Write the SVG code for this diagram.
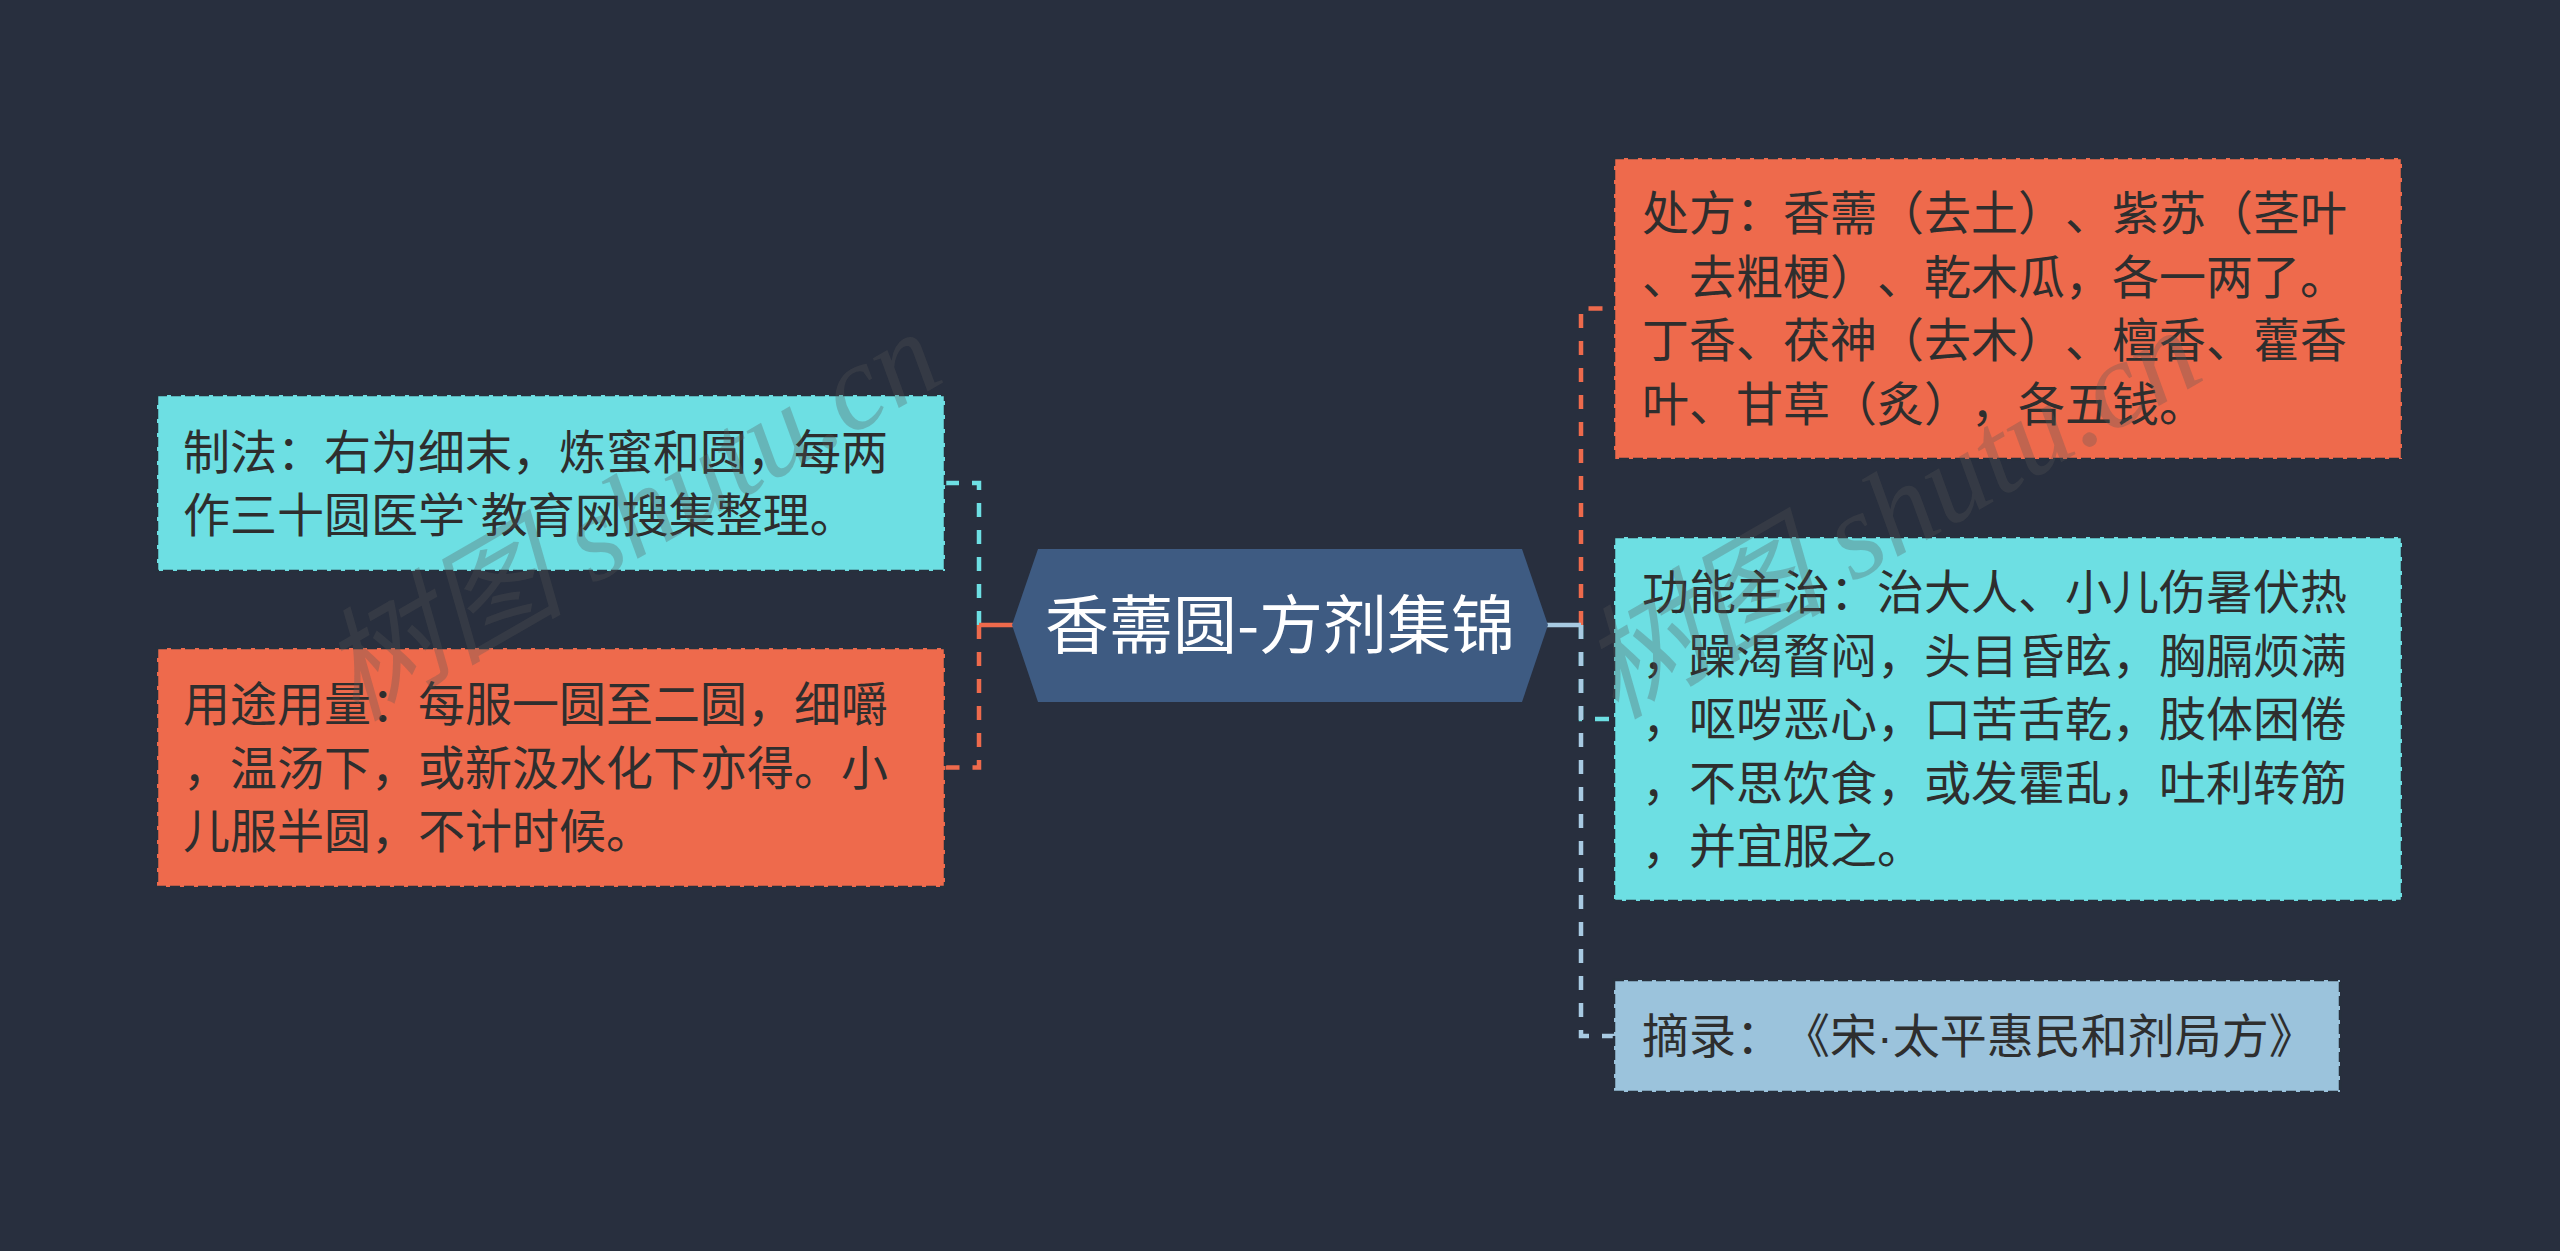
<svg xmlns="http://www.w3.org/2000/svg" width="2560" height="1251" viewBox="0 0 2560 1251">
<style>
.bg{fill:#282f3e}
.box{stroke:#27303d;stroke-width:2.5;stroke-dasharray:10 4}
.cyan{fill:#6ddfe3}
.orange{fill:#ee6a4c}
.lblue{fill:#9bc3dc}
.t{font-family:"Noto Sans CJK SC","Noto Sans",sans-serif;font-size:47px;fill:#2e2e2e;text-spacing-trim:space-all}
.lat{font-family:"Liberation Sans",sans-serif}
.root{font-family:"Noto Sans CJK SC","Noto Sans",sans-serif;font-size:64px;fill:#ffffff}
.c{fill:none;stroke-width:4.5;stroke-dasharray:14 13}
.s{fill:none;stroke-width:4.5}
.wm{font-family:"Liberation Serif","Noto Sans CJK SC",serif;font-style:italic;font-size:122px;fill:#555555;fill-opacity:0.3}
</style>
<rect class="bg" x="0" y="0" width="2560" height="1251"/>
<g id="connectors">
  <path class="c" stroke="#6ddfe3" d="M979,625 V483 H945"/>
  <path class="c" stroke="#ee6a4c" d="M979,625 V767.5 H945"/>
  <path class="s" stroke="#ee6a4c" d="M1013,625 H979"/>
  <path class="c" stroke="#6ddfe3" d="M1581,625 V719 H1614"/>
  <path class="c" stroke="#a8cae2" d="M1581,625 V1036 H1614"/>
  <path class="c" stroke="#ee6a4c" d="M1581,625 V308.5 H1614"/>
  <path class="s" stroke="#a8cae2" d="M1547,625 H1581"/>
</g>
<g id="root">
  <polygon fill="#3e5b82" points="1012,625 1038,549 1522,549 1548,625 1522,702 1038,702"/>
  <text class="root" x="1280" y="648" text-anchor="middle">香薷圆-方剂集锦</text>
</g>
<g id="node-zhifa">
  <rect class="box cyan" x="157" y="395" width="788" height="176"/>
  <text class="t"><tspan x="183" y="469">制法：右为细末，炼蜜和圆，每两</tspan><tspan x="183" y="532">作三十圆医学<tspan class="lat">`</tspan>教育网搜集整理。</tspan></text>
</g>
<g id="node-yongtu">
  <rect class="box orange" x="157" y="648" width="788" height="239"/>
  <text class="t"><tspan x="183" y="721">用途用量：每服一圆至二圆，细嚼</tspan><tspan x="183" y="784.5">，温汤下，或新汲水化下亦得。小</tspan><tspan x="183" y="848">儿服半圆，不计时候。</tspan></text>
</g>
<g id="node-chufang">
  <rect class="box orange" x="1614" y="158" width="788" height="301"/>
  <text class="t"><tspan x="1642" y="230">处方：香薷（去土）、紫苏（茎叶</tspan><tspan x="1642" y="293.5">、去粗梗）、乾木瓜，各一两了。</tspan><tspan x="1642" y="357">丁香、茯神（去木）、檀香、藿香</tspan><tspan x="1642" y="420.5">叶、甘草（炙），各五钱。</tspan></text>
</g>
<g id="node-gongneng">
  <rect class="box cyan" x="1614" y="537" width="788" height="364"/>
  <text class="t"><tspan x="1642" y="609">功能主治：治大人、小儿伤暑伏热</tspan><tspan x="1642" y="672.5">，躁渴瞀闷，头目昏眩，胸膈烦满</tspan><tspan x="1642" y="736">，呕哕恶心，口苦舌乾，肢体困倦</tspan><tspan x="1642" y="799.5">，不思饮食，或发霍乱，吐利转筋</tspan><tspan x="1642" y="863">，并宜服之。</tspan></text>
</g>
<g id="node-zhailu">
  <rect class="box lblue" x="1614" y="980" width="726" height="112"/>
  <text class="t" x="1642" y="1053">摘录：《宋<tspan class="lat">·</tspan>太平惠民和剂局方》</text>
</g>
<g id="watermark">
  <text class="wm" transform="translate(355,722) rotate(-30)">树图 shutu.cn</text>
  <text class="wm" transform="translate(1615,720) rotate(-30)">树图 shutu.cn</text>
</g>
</svg>
